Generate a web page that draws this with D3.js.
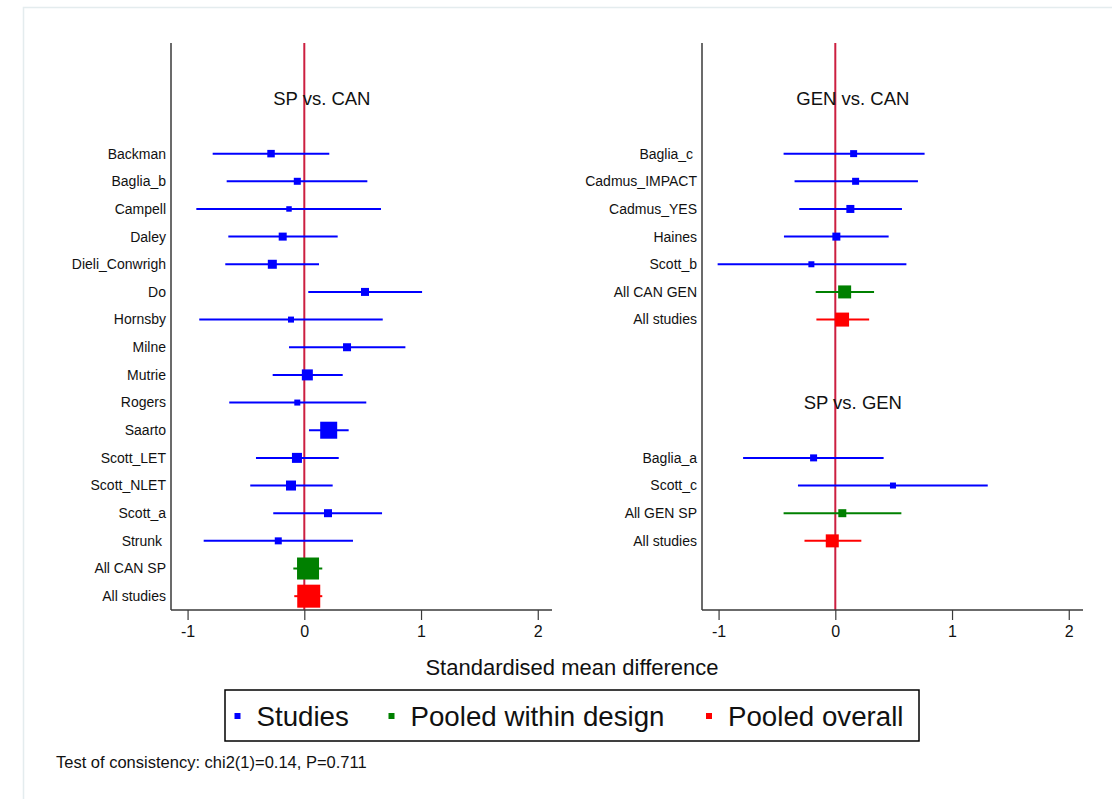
<!DOCTYPE html>
<html><head><meta charset="utf-8">
<script src="https://cdn.jsdelivr.net/npm/d3@7"></script>
<style>body{margin:0;background:#fff}text{font-family:"Liberation Sans",Arial,sans-serif;white-space:pre}</style>
</head><body><svg id="c" width="1112" height="799"></svg>
<script>
// ---- data ----
const leftTitle = "SP vs. CAN";
const leftLabels = ["Backman","Baglia_b","Campell","Daley","Dieli_Conwrigh","Do","Hornsby","Milne","Mutrie","Rogers","Saarto","Scott_LET","Scott_NLET","Scott_a","Strunk ","All CAN SP","All studies"];
const leftEst = [-0.285,-0.06,-0.131,-0.185,-0.274,0.52,-0.114,0.366,0.026,-0.06,0.209,-0.063,-0.114,0.203,-0.223,0.032,0.038];
const leftLo  = [-0.785,-0.665,-0.925,-0.651,-0.677,0.034,-0.9,-0.131,-0.271,-0.643,0.04,-0.414,-0.463,-0.266,-0.862,-0.094,-0.086];
const leftHi  = [0.214,0.54,0.657,0.286,0.126,1.009,0.672,0.866,0.329,0.531,0.38,0.295,0.243,0.666,0.417,0.154,0.154];
const leftWeight = [56,49,30,64,81,64,36,64,121,36,289,100,100,64,49,484,529];
const leftType = ["s","s","s","s","s","s","s","s","s","s","s","s","s","s","s","p","o"];

const r1Title = "GEN vs. CAN";
const r1Labels = ["Baglia_c ","Cadmus_IMPACT","Cadmus_YES","Haines","Scott_b","All CAN GEN","All studies"];
const r1Est = [0.157,0.174,0.129,0.009,-0.205,0.08,0.058];
const r1Lo  = [-0.443,-0.349,-0.309,-0.44,-1.008,-0.168,-0.162];
const r1Hi  = [0.765,0.708,0.571,0.457,0.609,0.332,0.29];
const r1Weight = [49,49,64,64,36,169,196];
const r1Type = ["s","s","s","s","s","p","o"];

const r2Title = "SP vs. GEN";
const r2Labels = ["Baglia_a","Scott_c","All GEN SP","All studies"];
const r2Est = [-0.186,0.494,0.06,-0.026];
const r2Lo  = [-0.79,-0.32,-0.443,-0.264];
const r2Hi  = [0.414,1.306,0.566,0.223];
const r2Weight = [49,36,64,169];
const r2Type = ["s","s","p","o"];

const xTicks = [-1,0,1,2];
const xLabel = "Standardised mean difference";
const legendItems = [["s","Studies"],["p","Pooled within design"],["o","Pooled overall"]];
const footnote = "Test of consistency: chi2(1)=0.14, P=0.711";

// ---- drawing ----
const colors = {s:"#0000ff", p:"#008000", o:"#ff0000"};
const svg = d3.select("#c");
svg.append("rect").attr("x",23.5).attr("y",7.5).attr("width",1100).attr("height",800)
  .attr("fill","#fff").attr("stroke","#e4ecee").attr("stroke-width",1.5);

const y = d3.scaleLinear().domain([-2,18.5]).range([43,610]);
const side = d3.scaleSqrt().domain([0,529]).range([0,23]);
const xDomain = [-1.142,2.122];
const titleX = 0.15;

function makeGroups(groups){
  const rows=[]; let r=0;
  groups.forEach((g,gi)=>{
    if(gi>0) r+=3;
    rows.push({title:g.title,row:r});
    g.labels.forEach((l,i)=>{ r = (i===0? r+2 : r+1);
      rows.push({label:l,est:g.est[i],lo:g.lo[i],hi:g.hi[i],w:g.w[i],type:g.type[i],row:r});});
  });
  return rows;
}

function panel(x0,x1,groups){
  const x = d3.scaleLinear().domain(xDomain).range([x0,x1]);
  const g = svg.append("g");
  const rows = makeGroups(groups);
  g.append("line").attr("x1",x(0)).attr("x2",x(0)).attr("y1",y(-2)).attr("y2",y(18.5))
    .attr("stroke","#cc1f40").attr("stroke-width",2);
  g.append("line").attr("x1",x0).attr("x2",x0).attr("y1",y(-2)).attr("y2",y(18.5))
    .attr("stroke","#3a3a3a").attr("stroke-width",1.5);
  const ax = g.append("g").attr("transform",`translate(0,${y(18.5)})`)
    .call(d3.axisBottom(x).tickValues(xTicks).tickSize(10).tickPadding(6).tickFormat(d3.format("d")));
  ax.select(".domain").attr("stroke","#3a3a3a").attr("stroke-width",1.5).attr("d",`M${x0},0H${x1}`);
  ax.selectAll(".tick line").attr("stroke","#3a3a3a").attr("stroke-width",1.2);
  ax.selectAll(".tick text").attr("font-size",16).attr("fill","#111")
    .attr("font-family",'"Liberation Sans",Arial,sans-serif').text(d=>d<0?"-"+Math.abs(d):d);
  rows.forEach(d=>{
    if(d.title){
      g.append("text").attr("x",x(titleX)).attr("y",y(d.row)).attr("dy","0.35em")
        .attr("text-anchor","middle").attr("font-size",18.5).attr("fill","#111").text(d.title);
      return;
    }
    g.append("text").attr("x",x0-5).attr("y",y(d.row)).attr("dy","0.35em")
      .attr("text-anchor","end").attr("font-size",14).attr("fill","#111").text(d.label);
    g.append("line").attr("x1",x(d.lo)).attr("x2",x(d.hi)).attr("y1",y(d.row)).attr("y2",y(d.row))
      .attr("stroke",colors[d.type]).attr("stroke-width",2);
    const s=side(d.w);
    g.append("rect").attr("x",x(d.est)-s/2).attr("y",y(d.row)-s/2).attr("width",s).attr("height",s)
      .attr("fill",colors[d.type]);
  });
}

panel(171,552,[{title:leftTitle,labels:leftLabels,est:leftEst,lo:leftLo,hi:leftHi,w:leftWeight,type:leftType}]);
panel(702,1083,[
  {title:r1Title,labels:r1Labels,est:r1Est,lo:r1Lo,hi:r1Hi,w:r1Weight,type:r1Type},
  {title:r2Title,labels:r2Labels,est:r2Est,lo:r2Lo,hi:r2Hi,w:r2Weight,type:r2Type}]);

svg.append("text").attr("x",572).attr("y",667).attr("dy","0.35em").attr("text-anchor","middle")
  .attr("font-size",22).attr("fill","#111").text(xLabel);

// legend
svg.append("rect").attr("x",225).attr("y",690).attr("width",694).attr("height",51)
  .attr("fill","#fff").attr("stroke","#000").attr("stroke-width",1.5);
const legX = [237.5,391.5,709];
legendItems.forEach((it,i)=>{
  svg.append("rect").attr("x",legX[i]-3).attr("y",713).attr("width",6).attr("height",6).attr("fill",colors[it[0]]);
  svg.append("text").attr("x",legX[i]+19).attr("y",716).attr("dy","0.35em").attr("font-size",27.7)
    .attr("fill","#111").text(it[1]);
});
svg.append("text").attr("x",56).attr("y",762).attr("dy","0.35em").attr("font-size",16.5)
  .attr("fill","#111").text(footnote);
</script></body></html>
